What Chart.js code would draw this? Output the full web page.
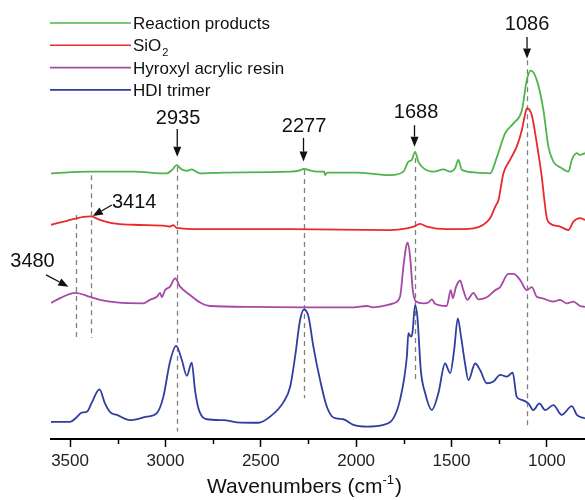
<!DOCTYPE html>
<html>
<head>
<meta charset="utf-8">
<script src="https://cdn.jsdelivr.net/npm/chart.js@4"></script>
<style>
  body { margin: 0; background: #fff; }
  #wrap { width: 585px; height: 500px; position: relative; }
</style>
</head>
<body>
<div id="wrap"><canvas id="grafico"></canvas></div>
<script>
// FTIR spectra, wavenumber (cm-1) and stacked intensity (a.u., offset already in)
const wnProducts = [3600,3395,3168,2993,2965,2941,2918,2888,2862,2818,2696,2346,2294,2277,2206,2168,2163,2152,1997,1822,1752,1726,1708,1691,1674,1647,1595,1542,1507,1481,1464,1446,1367,1298,1262,1219,1175,1131,1105,1084,1053,1018,992,966,922,887,869,843,826,800];
const yProducts = [60.5,60.9,60.9,60.5,61.3,62.4,61.5,61.1,61.4,60.5,60.7,60.9,61.2,61.5,60.9,60.9,60.1,60.7,60.7,60.1,60.9,63.2,63.6,65.4,63.2,61.7,60.9,61.4,60.9,61.7,63.6,61.3,60.7,60.5,64.2,69.6,71.9,74.9,81.8,83.9,81.8,74.9,66.6,63.2,61.7,60.9,63.6,65.1,64.7,65.1];

const wnSiO2 = [3600,3517,3430,3391,3343,3273,3168,2993,2976,2958,2941,2818,2346,1822,1734,1691,1665,1630,1525,1385,1333,1298,1271,1254,1228,1193,1158,1131,1117,1105,1093,1079,1053,1027,1013,1000,983,931,887,861,826,800];
const ySiO2 = [48.8,49.7,50.6,50.7,49.9,49.1,48.8,48.5,48.4,48.7,48.1,47.8,47.8,47.6,48.0,48.5,49.0,48.4,47.8,48.0,48.8,50.3,52.9,54.4,60.5,63.6,66.6,70.4,73.4,75.3,75.1,73.8,67.4,59.8,54.4,50.3,49.1,48.4,47.6,49.5,50.3,49.9];

const wnResin = [3600,3552,3474,3395,3343,3255,3116,3081,3045,3028,3019,3002,2976,2949,2923,2871,2818,2766,2556,2273,2014,1944,1910,1839,1805,1770,1752,1738,1729,1717,1703,1686,1647,1621,1603,1586,1525,1504,1493,1476,1455,1438,1417,1385,1359,1315,1271,1245,1202,1175,1140,1105,1079,1053,1027,966,931,895,861,826,800];
const yResin = [31.0,32.1,33.3,32.4,31.7,31.1,30.9,31.7,32.4,33.3,32.3,33.9,34.7,36.6,34.7,32.8,31.1,30.3,30.1,30.0,30.0,30.3,30.0,30.5,30.9,32.4,39.3,43.8,44.7,41.5,33.9,31.3,30.9,31.1,31.8,30.8,30.3,33.9,32.1,34.7,36.1,33.9,31.7,33.3,31.8,32.3,33.9,34.6,37.6,37.6,36.2,33.9,34.6,32.4,32.1,31.3,31.7,30.9,31.3,30.3,30.1];

const wnHDI = [3600,3500,3469,3439,3412,3385,3346,3317,3290,3255,3185,3098,3045,3011,2976,2944,2914,2888,2862,2845,2827,2783,2696,2626,2513,2451,2381,2346,2320,2294,2273,2250,2224,2189,2154,2119,2067,2014,1944,1857,1805,1770,1734,1726,1713,1705,1691,1679,1661,1638,1603,1569,1534,1507,1486,1467,1450,1429,1411,1376,1350,1315,1280,1245,1210,1179,1158,1131,1097,1071,1039,1009,966,922,869,843,800];
const yHDI = [3.9,3.9,4.8,6.0,6.2,8.4,11.3,8.1,6.1,5.5,4.3,5.1,5.9,9.6,17.6,21.2,18.0,14.4,17.4,11.2,7.0,4.5,4.3,3.8,3.7,5.1,8.4,11.9,18.8,27.1,29.5,27.9,21.0,13.4,7.4,4.9,4.5,3.2,2.8,3.2,4.7,8.9,18.8,24.1,23.3,24.1,30.5,27.9,15.7,10.4,6.6,10.4,17.2,15.0,20.3,27.5,23.3,17.2,13.4,17.2,15.7,12.7,13.1,14.6,14.2,15.1,9.6,8.9,8.1,6.6,8.1,6.6,7.7,5.5,7.5,5.5,4.7];

const seriesNames = ['Reaction products', 'SiO₂', 'Hyroxyl acrylic resin', 'HDI trimer'];
const tickValues = [3500, 3250, 3000, 2750, 2500, 2250, 2000, 1750, 1500, 1250, 1000];

// marked peaks: text and where the dashed guide sits
const peakLabels = ['3480', '3414', '2935', '2277', '1688', '1086'];
const peakPositions = [3468, 3391, 2938, 2276, 1694, 1104];

// where each guide / label / arrow goes (data units)
const peakLayout = [
  { guide: [51.0, 23.0], label: [3697, 40.5], arrow: [[3626, 37.4], [3509, 34.7]] },
  { guide: [60.1, 23.0], label: [3164, 53.9], arrow: [[3281, 53.3], [3381, 50.8]] },
  { guide: [62.0, 1.7], label: [2934, 73.1], arrow: [[2938, 70.6], [2938, 64.3]] },
  { guide: [61.3, 9.3], label: [2273, 71.3], arrow: [[2276, 68.6], [2276, 63.2]] },
  { guide: [64.0, 13.4], label: [1686, 74.4], arrow: [[1694, 71.5], [1694, 66.6]] },
  { guide: [86.3, 2.8], label: [1104, 94.5], arrow: [[1104, 91.6], [1104, 86.7]] }
];

const cores = ['#4fb54a', '#e82a2c', '#a548a8', '#2f3ea0'];
const fonte = "'Liberation Sans', Arial, sans-serif";

function pares(xs, ys) {
  return xs.map((v, i) => ({ x: v, y: ys[i] }));
}

function seta(ctx, x1, y1, x2, y2) {
  const ang = Math.atan2(y2 - y1, x2 - x1);
  const cab = 10, larg = 4;
  ctx.beginPath();
  ctx.moveTo(x1, y1);
  ctx.lineTo(x2 - Math.cos(ang) * cab, y2 - Math.sin(ang) * cab);
  ctx.stroke();
  ctx.beginPath();
  ctx.moveTo(x2, y2);
  ctx.lineTo(x2 - Math.cos(ang) * cab - Math.sin(ang) * larg, y2 - Math.sin(ang) * cab + Math.cos(ang) * larg);
  ctx.lineTo(x2 - Math.cos(ang) * cab + Math.sin(ang) * larg, y2 - Math.sin(ang) * cab - Math.cos(ang) * larg);
  ctx.closePath();
  ctx.fill();
}

// dashed guides behind the curves, arrows + numbers on top
const anotacoes = {
  id: 'anotacoes',
  beforeDatasetsDraw(chart) {
    const { ctx, scales: { x, y } } = chart;
    ctx.save();
    ctx.strokeStyle = '#808080';
    ctx.lineWidth = 1.3;
    ctx.setLineDash([5, 4]);
    peakLayout.forEach((p, i) => {
      const px = Math.round(x.getPixelForValue(peakPositions[i])) + 0.5;
      ctx.beginPath();
      ctx.moveTo(px, y.getPixelForValue(p.guide[0]));
      ctx.lineTo(px, y.getPixelForValue(p.guide[1]));
      ctx.stroke();
    });
    ctx.restore();
  },
  afterDatasetsDraw(chart) {
    const { ctx, scales: { x, y } } = chart;
    ctx.save();
    ctx.fillStyle = '#111';
    ctx.strokeStyle = '#111';
    ctx.lineWidth = 1.3;
    ctx.font = '20px ' + fonte;
    ctx.textAlign = 'center';
    ctx.textBaseline = 'middle';
    peakLayout.forEach((p, i) => {
      ctx.fillText(peakLabels[i], x.getPixelForValue(p.label[0]), y.getPixelForValue(p.label[1]));
      const a = p.arrow;
      seta(ctx, x.getPixelForValue(a[0][0]), y.getPixelForValue(a[0][1]),
        x.getPixelForValue(a[1][0]), y.getPixelForValue(a[1][1]));
    });

    // minor ticks (shorter than the major ones)
    ctx.lineWidth = 1.5;
    ctx.strokeStyle = '#000';
    const base = chart.chartArea.bottom;
    tickValues.filter(v => v % 500 !== 0).forEach(v => {
      const px = Math.round(x.getPixelForValue(v)) + 0.5;
      ctx.beginPath();
      ctx.moveTo(px, base);
      ctx.lineTo(px, base + 5);
      ctx.stroke();
    });

    // axis title with superscript
    const parte1 = 'Wavenumbers (cm', sup = '-1', parte2 = ')';
    ctx.textAlign = 'left';
    ctx.textBaseline = 'alphabetic';
    ctx.font = '21px ' + fonte;
    const w1 = ctx.measureText(parte1).width, w3 = ctx.measureText(parte2).width;
    ctx.font = '13px ' + fonte;
    const w2 = ctx.measureText(sup).width;
    let tx = 304 - (w1 + w2 + w3) / 2;
    const ty = 493;
    ctx.font = '21px ' + fonte;
    ctx.fillText(parte1, tx, ty);
    tx += w1;
    ctx.font = '13px ' + fonte;
    ctx.fillText(sup, tx, ty - 9);
    tx += w2 + 1;
    ctx.font = '21px ' + fonte;
    ctx.fillText(parte2, tx, ty);
    ctx.restore();
  }
};

// legend drawn like the original: long line then the name
const legenda = {
  id: 'legenda',
  afterDraw(chart) {
    const { ctx } = chart;
    ctx.save();
    chart.data.datasets.forEach((ds, i) => {
      const ly = 23 + i * 22.3;
      ctx.strokeStyle = ds.borderColor;
      ctx.lineWidth = 1.6;
      ctx.beginPath();
      ctx.moveTo(50, ly);
      ctx.lineTo(131, ly);
      ctx.stroke();
      ctx.fillStyle = '#111';
      ctx.textBaseline = 'alphabetic';
      ctx.textAlign = 'left';
      let tx = 133;
      for (const ch of ds.label) {
        if (ch === '₂') {
          ctx.font = '11px ' + fonte;
          ctx.fillText('2', tx + 1, ly + 11);
          tx += ctx.measureText('2').width + 1;
        } else {
          ctx.font = '17px ' + fonte;
          ctx.fillText(ch, tx, ly + 6);
          tx += ctx.measureText(ch).width;
        }
      }
    });
    ctx.restore();
  }
};

const ctx = document.getElementById('grafico').getContext('2d');
const grafico = new Chart(ctx, {
  type: 'line',
  data: {
    datasets: [
      { label: seriesNames[0], data: pares(wnProducts, yProducts) },
      { label: seriesNames[1], data: pares(wnSiO2, ySiO2) },
      { label: seriesNames[2], data: pares(wnResin, yResin) },
      { label: seriesNames[3], data: pares(wnHDI, yHDI) }
    ].map((d, i) => Object.assign(d, {
      borderColor: cores[i],
      borderWidth: 1.8,
      pointRadius: 0,
      fill: false,
      cubicInterpolationMode: 'monotone'
    }))
  },
  options: {
    responsive: true,
    maintainAspectRatio: false,
    animation: false,
    layout: { padding: { left: 51, right: 0, top: 0, bottom: 0 } },
    plugins: {
      legend: { display: false },
      tooltip: { enabled: false }
    },
    scales: {
      x: {
        type: 'linear',
        reverse: true,
        min: 800,
        max: 3600,
        afterBuildTicks: (axis) => { axis.ticks = tickValues.map(v => ({ value: v })); },
        afterFit: (axis) => { axis.height = 61; },
        border: { display: true, color: '#000', width: 2 },
        grid: {
          drawOnChartArea: false,
          drawTicks: true,
          tickLength: 8,
          tickWidth: 1.5,
          tickColor: (c) => (c.tick && c.tick.value % 500 === 0) ? '#000' : 'rgba(0,0,0,0)'
        },
        ticks: {
          autoSkip: false,
          maxRotation: 0,
          padding: 4,
          color: '#222',
          font: { size: 17, family: fonte },
          callback: (v) => v % 500 === 0 ? String(v) : ''
        }
      },
      y: {
        display: false,
        min: 0,
        max: 100
      }
    }
  },
  plugins: [anotacoes, legenda]
});
</script>
</body>
</html>
